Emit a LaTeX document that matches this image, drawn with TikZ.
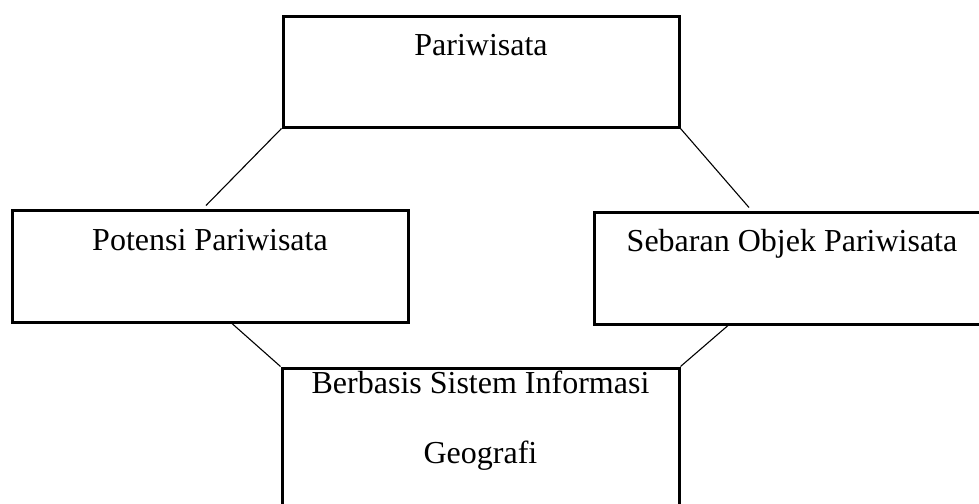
\documentclass[tikz,border=0pt]{standalone}
\usepackage{fontspec}
\setmainfont{Liberation Serif}
\usepackage{tikz}
\usetikzlibrary{calc,positioning}
\tikzset{
  rectnodes/.style args={#1,#2}{
  draw=black,
  line width=1.5pt,
  inner sep=0pt,
  minimum width=#1pt,
  minimum height=#2pt,
  },
  boxtext/.style={font=\fontsize{16}{35}\selectfont,inner sep=0pt,align=center},
  link/.style={line width=0.55pt},
}
\begin{document}
\begin{tikzpicture}[x=0.5pt,y=-0.5pt]
  \useasboundingbox (0,0) rectangle (979,503);

  \node [rectnodes={198,55.5}] (pari) at (481,71.5) {};
  \node [rectnodes={198,56}] (pot) at (210,266) {};
  \node [rectnodes={230,56}] (seb) at (824,268) {};
  \node [rectnodes={198.5,90}] (sig) at (480.5,458) {};

  \node [boxtext,anchor=base] (tpari) at ([yshift=-20.5pt]pari.north) {Pariwisata};
  \node [boxtext,anchor=base] (tpot) at ([yshift=-21pt]pot.north) {Potensi Pariwisata};
  \node [boxtext,anchor=base] (tseb) at ([xshift=-16pt,yshift=-20.5pt]seb.north) {Sebaran Objek Pariwisata};
  \node [boxtext,anchor=base] (tsig) at ([yshift=-48.5pt]sig.north) {Berbasis Sistem Informasi\\Geografi};

  \draw [link] (pari.south west) -- ([xshift=-2pt,yshift=1.5pt]pot.north);
  \draw [link] (pari.south east) -- ([xshift=-37.5pt,yshift=1.5pt]seb.north);
  \draw [link] ([xshift=11pt]pot.south) -- (sig.north west);
  \draw [link] ([xshift=-48pt]seb.south) -- (sig.north east);
\end{tikzpicture}
\end{document}
